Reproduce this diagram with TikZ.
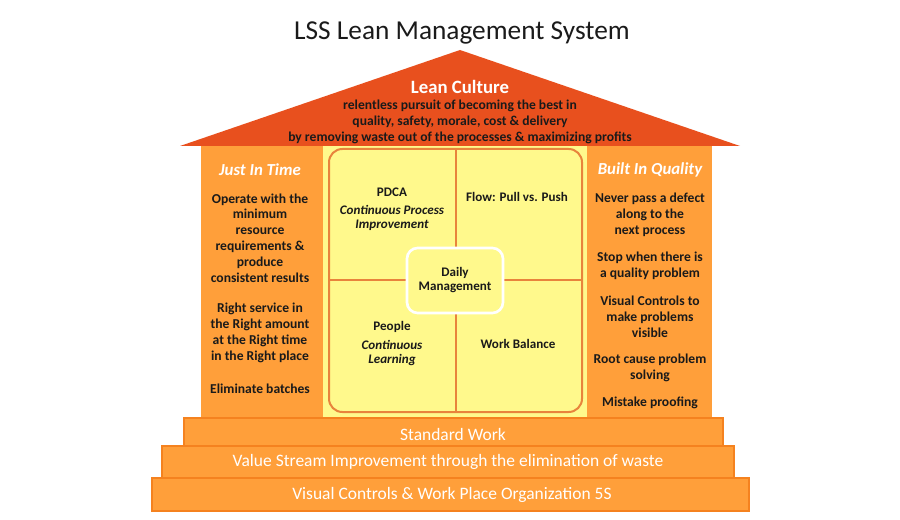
\documentclass[tikz,border=0pt]{standalone}
\usepackage{fontspec}
\setmainfont{Carlito}
\definecolor{roofred}{HTML}{E8501E}
\definecolor{pillarorange}{HTML}{FF9F3A}
\definecolor{stairedge}{HTML}{F5821F}
\definecolor{coreyellow}{HTML}{FFF98C}
\definecolor{gridorange}{HTML}{E8843C}
\definecolor{inkdark}{HTML}{1A1A1A}

\begin{document}
\begin{tikzpicture}[x=0.75pt,y=-0.75pt,
	stair/.style={fill=pillarorange,draw=stairedge,line width=0.8pt},
	stairtext/.style={text=white,font=\fontsize{13.1}{15}\selectfont,inner sep=0pt},
	rooftext/.style={align=center,text=inkdark,font=\fontsize{10.2}{12}\selectfont\bfseries,inner sep=0pt},
	pillarhead/.style={text=white,font=\fontsize{12.6}{14}\selectfont\bfseries\itshape,inner sep=0pt},
	pillartext/.style={align=center,text=inkdark,font=\fontsize{10.2}{11.9}\selectfont\bfseries,inner sep=0pt},
	coretext/.style={align=center,text=inkdark,font=\fontsize{9.8}{10.5}\selectfont\bfseries,inner sep=0pt}]
	\useasboundingbox (0,0) rectangle (900,520);

	\node[text=inkdark,font=\fontsize{20.5}{24}\selectfont] (title) at (462,33) {LSS Lean Management System};

	\fill[roofred] (180,146) -- (460,50) -- (740,146) -- cycle;
	\node[text=white,font=\fontsize{14.1}{16}\selectfont\bfseries,inner sep=0pt] (culture) at (460,87) {Lean Culture};
	\node[rooftext] (pursuit) at (460,122) {relentless pursuit of becoming the best in\\quality, safety, morale, cost \& delivery\\by removing waste out of the processes \& maximizing profits};

	\fill[pillarorange] (201,146) rectangle (323,418);
	\fill[pillarorange] (587,146) rectangle (712,418);
	\fill[coreyellow] (323,146) rectangle (587,418);

	\draw[gridorange,line width=1.5pt,rounded corners=10pt] (329,149) rectangle (582,412);
	\draw[gridorange,line width=1.5pt] (456,149) -- (456,412);
	\draw[gridorange,line width=1.5pt] (329,280) -- (582,280);
	\draw[white,fill=coreyellow,line width=2pt,rounded corners=8pt] (407,248) rectangle (503,313);

	\node[pillarhead] (jit) at (260,170) {Just In Time};
	\node[pillartext] (operate) at (260,238) {Operate with the\\minimum\\resource\\requirements \&\\produce\\consistent results};
	\node[pillartext] (right) at (260,333) {Right service in\\the Right amount\\at the Right time\\in the Right place};
	\node[pillartext] (batches) at (260,389) {Eliminate batches};

	\node[pillarhead] (quality) at (650,170) {Built In Quality};
	\node[pillartext] (defect) at (650,215) {Never pass a defect\\along to the\\next process};
	\node[pillartext] (stop) at (650,266) {Stop when there is\\a quality problem};
	\node[pillartext] (visual) at (650,317) {Visual Controls to\\make problems\\visible};
	\node[pillartext] (rootcause) at (650,368) {Root cause problem\\solving};
	\node[pillartext] (mistake) at (650,403) {Mistake proofing};

	\node[coretext] (pdca) at (392,192) {PDCA};
	\node[coretext,font=\fontsize{9.8}{10.5}\selectfont\bfseries\itshape] (process) at (392,218) {Continuous Process\\Improvement};
	\node[coretext] (flow) at (517,197) {Flow: Pull vs. Push};
	\node[coretext] (daily) at (455,280) {Daily\\Management};
	\node[coretext] (people) at (392,327) {People};
	\node[coretext,font=\fontsize{9.8}{10.5}\selectfont\bfseries\itshape] (learning) at (392,353) {Continuous\\Learning};
	\node[coretext] (balance) at (518,344) {Work Balance};

	\draw[stair] (184,418) rectangle (723,446);
	\node[stairtext] (standard) at (453,434) {Standard Work};
	\draw[stair] (162,446) rectangle (734,478);
	\node[stairtext] (stream) at (448,462) {Value Stream Improvement through the elimination of waste};
	\draw[stair] (152,478) rectangle (749,511);
	\node[stairtext] (organize) at (452,495) {Visual Controls \& Work Place Organization 5S};
\end{tikzpicture}
\end{document}
